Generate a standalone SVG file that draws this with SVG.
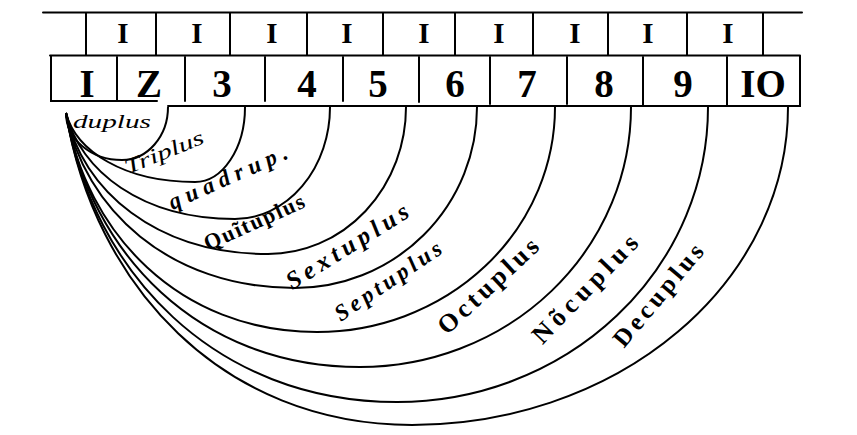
<svg xmlns="http://www.w3.org/2000/svg" width="857" height="435" viewBox="0 0 857 435">
<style>
.ln{stroke:#000;stroke-width:2;fill:none;stroke-linecap:round}
.arc{stroke:#000;stroke-width:2;fill:none}
.one{font-family:"Liberation Serif",serif;font-size:29px;font-weight:bold;text-anchor:middle;fill:#000}
.num{font-family:"Liberation Serif",serif;font-size:39px;font-weight:bold;text-anchor:middle;fill:#000}
.lab{font-family:"Liberation Serif",serif;text-anchor:middle;dominant-baseline:central;fill:#000}
.it{font-style:italic}
.bd{font-weight:bold}
</style>
<rect width="857" height="435" fill="#fff"/>
<g id="ones-row">
<path class="ln" d="M43 12.5H802"/>
<path class="ln" d="M86 13V55M156 13V55M230 13V55M307 13V55M383 13V55M455 13V55M533 13V55M608 13V55M687 13V55M763 13V55"/>
<text class="one" x="123" y="43">I</text>
<text class="one" x="197" y="43">I</text>
<text class="one" x="272" y="43">I</text>
<text class="one" x="347" y="43">I</text>
<text class="one" x="424" y="43">I</text>
<text class="one" x="499" y="43">I</text>
<text class="one" x="575" y="43">I</text>
<text class="one" x="648" y="43">I</text>
<text class="one" x="728" y="43">I</text>
</g>
<g id="numbers-row">
<path class="ln" d="M50 55.5H800"/>
<path class="ln" d="M51 56V101H157M168 106H800V56"/>
<path class="ln" d="M117 57V100M185 57V101M265 57V101M343 57V101M419 57V102M490 57V104M567 57V104M643 57V105M727 57V105"/>
<text class="num" x="87" y="97">I</text>
<text class="num" x="149" y="97">Z</text>
<text class="num" x="222" y="97">3</text>
<text class="num" x="307" y="97">4</text>
<text class="num" x="378" y="97">5</text>
<text class="num" x="455" y="97">6</text>
<text class="num" x="527" y="97">7</text>
<text class="num" x="604" y="97">8</text>
<text class="num" x="683" y="97">9</text>
<text class="num" x="763" y="97">IO</text>
</g>
<g id="connectors">
<path class="arc" d="M66 113A56 47 0 0 0 122 160A46 53 0 0 0 168 107"/>
<path class="arc" d="M66 113C76 151 124 182 195 182A50 75 0 0 0 245 107"/>
<path class="arc" d="M66 113C80 171 142 219 235 219A95 112 0 0 0 330 107"/>
<path class="arc" d="M66 113C82 191 157 254 268 254A138 147 0 0 0 406 107"/>
<path class="arc" d="M66 113C84 209 169 288 295 288A182 181 0 0 0 477 107"/>
<path class="arc" d="M66 113C86 233 179 332 317 332A238 225 0 0 0 555 107"/>
<path class="arc" d="M66 113C90 253 198 367 360 367A271 260 0 0 0 631 107"/>
<path class="arc" d="M66 113C92 272 215 402 397 402A311 295 0 0 0 708 107"/>
<path class="arc" d="M66 113C94 285 222 425 412 425A376 318 0 0 0 788 107"/>
</g>
<g id="label-duplus"><text class="lab it" x="112" y="121" font-size="19" textLength="78" lengthAdjust="spacingAndGlyphs">duplus</text></g>
<g id="label-triplus" transform="translate(164 152) rotate(-22)"><text class="lab it" x="0" y="0" font-size="21" textLength="84" lengthAdjust="spacingAndGlyphs">Triplus</text></g>
<g id="label-quadrup" transform="translate(228 177) rotate(-24)"><text class="lab it bd" x="0" y="0" font-size="23" textLength="128" lengthAdjust="spacing">quadrup.</text></g>
<g id="label-quintuplus" transform="translate(254 222) rotate(-24)"><text class="lab bd" x="0" y="0" font-size="22" textLength="108" lengthAdjust="spacing">Quĩtuplus</text></g>
<g id="label-sextuplus" transform="translate(347 246) rotate(-32)"><text class="lab it bd" x="0" y="0" font-size="25" textLength="140" lengthAdjust="spacing">Sextuplus</text></g>
<g id="label-septuplus" transform="translate(388 281) rotate(-34)"><text class="lab it bd" x="0" y="0" font-size="23" textLength="124" lengthAdjust="spacing">Septuplus</text></g>
<g id="label-octuplus" transform="translate(488 286) rotate(-43)"><text class="lab bd" x="0" y="0" font-size="26" textLength="128" lengthAdjust="spacing">Octuplus</text></g>
<g id="label-nonuplus" transform="translate(585 289) rotate(-46)"><text class="lab bd" x="0" y="0" font-size="26" textLength="140" lengthAdjust="spacing">Nõcuplus</text></g>
<g id="label-decuplus" transform="translate(658 295) rotate(-50)"><text class="lab bd" x="0" y="0" font-size="25" textLength="126" lengthAdjust="spacing">Decuplus</text></g>
</svg>
